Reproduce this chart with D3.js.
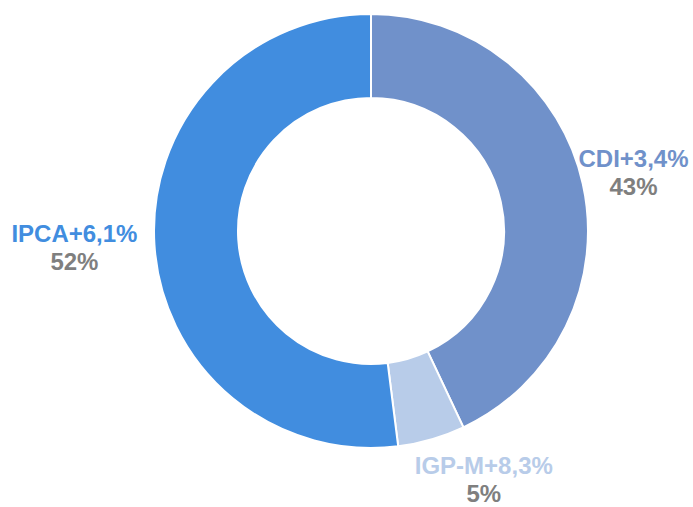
<!DOCTYPE html>
<html>
<head>
<meta charset="utf-8">
<script src="https://cdn.jsdelivr.net/npm/d3@7"></script>
<style>
  body { margin: 0; background: #fff; }
  text { font-family: "Liberation Sans", Arial, sans-serif; font-weight: bold; font-size: 24px; }
</style>
</head>
<body>
<svg></svg>
<script>
const categories = ['CDI+3,4%', 'IGP-M+8,3%', 'IPCA+6,1%'];
const shares = [43, 5, 52];
const shareLabels = ['43%', '5%', '52%'];
const colors = ['#7091CA', '#B8CCE9', '#418DDF'];

const WIDTH = 693;
const HEIGHT = 507;
const CX = 371;
const CY = 231;
const OUTER = 217;
const INNER = 133;

// label placement: extra distance beyond the ring, angle nudge in degrees
const labelLayout = {
  'CDI+3,4%': { dr: 52, da: 0 },
  'IGP-M+8,3%': { dr: 55, da: -8.3 },
  'IPCA+6,1%': { dr: 80, da: 0.6 },
};

const data = categories.map((c, i) => ({ name: c, value: shares[i], label: shareLabels[i], color: colors[i] }));

const svg = d3.select('svg')
    .attr('width', WIDTH)
    .attr('height', HEIGHT);
const g = svg.append('g')
    .attr('transform', `translate(${CX}, ${CY})`);

const pie = d3.pie()
    .value((d) => d.value)
    .sort(null);
const arc = d3.arc()
    .innerRadius(INNER)
    .outerRadius(OUTER);

const arcs = pie(data);

g.selectAll('path')
    .data(arcs)
  .enter().append('path')
    .attr('d', arc)
    .attr('fill', (d) => d.data.color)
    .attr('stroke', '#fff')
    .attr('stroke-width', 2);

const labels = g.selectAll('text.lbl')
    .data(arcs)
  .enter().append('text')
    .attr('class', 'lbl')
    .attr('text-anchor', 'middle')
    .attr('transform', (d) => {
      const lay = labelLayout[d.data.name];
      const a = (d.startAngle + d.endAngle) / 2 + lay.da * Math.PI / 180;
      const r = OUTER + lay.dr;
      return `translate(${r * Math.sin(a)}, ${-r * Math.cos(a)})`;
    });

labels.append('tspan')
    .attr('x', 0)
    .attr('y', -5)
    .attr('fill', (d) => d.data.color)
    .text((d) => d.data.name);
labels.append('tspan')
    .attr('x', 0)
    .attr('y', 23)
    .attr('fill', '#7F7F7F')
    .text((d) => d.data.label);
</script>
</body>
</html>
